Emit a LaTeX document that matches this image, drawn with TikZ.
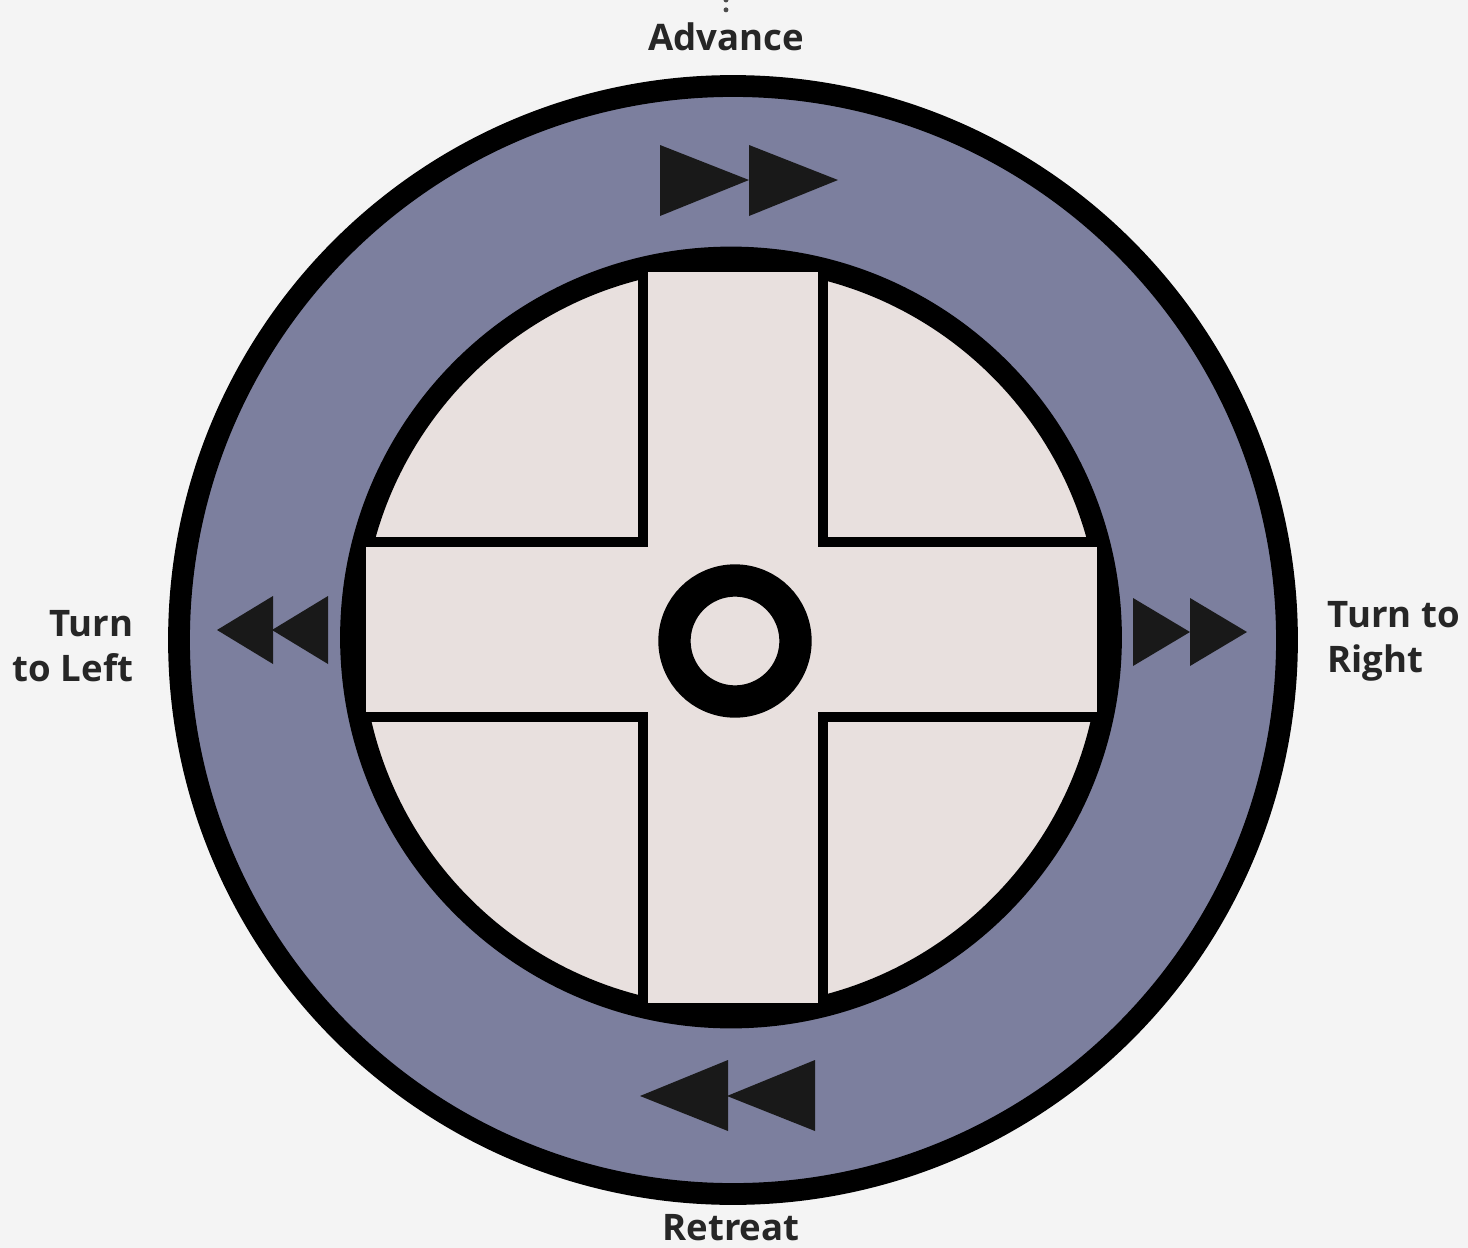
\documentclass[tikz,border=0pt]{standalone}
\usepackage{fontspec}
\setmainfont{Open Sans}
\usetikzlibrary{calc}

\definecolor{padblue}{RGB}{124,127,158}
\definecolor{padpink}{RGB}{232,224,222}
\definecolor{paper}{RGB}{244,244,244}

\begin{document}
\begin{tikzpicture}[
  x=0.01cm, y=-0.01cm,
  font=\fontsize{10.4}{12.8}\selectfont\bfseries,
  lbl/.style={inner sep=0pt, text=black!85},
  rim/.style={draw=black, line width=6.2pt},
  bar/.style={draw=black, line width=2.8pt, fill=padpink, line join=miter},
  hub/.style={draw=black, line width=9.2pt},
  tri/.style={fill=black!90},
  dotline/.style={black!70, line width=1.4pt, line cap=round,
                  dash pattern=on 0pt off 2.8pt}
]
\useasboundingbox (0,0) rectangle (1468,1248);
\fill[paper] (0,0) rectangle (1468,1248);

% pad body
\filldraw[rim, fill=padblue] (733,640) circle[radius=554];
\filldraw[rim, fill=padpink] (731,637.5) circle[radius=380];

% cross
\draw[bar] (643,267) -- (823,267) -- (823,542) -- (1102,542)
  -- (1102,717) -- (823,717) -- (823,1008) -- (643,1008)
  -- (643,717) -- (361,717) -- (361,542) -- (643,542) -- cycle;
\draw[hub] (735,641) circle[radius=60.5];

% direction marks
\foreach \x in {660,749}
  \fill[tri] (\x,145) -- ++(89,35) -- ++(-89,36) -- cycle;
\foreach \x in {1133,1190}
  \fill[tri] (\x,598) -- ++(57,34) -- ++(-57,34) -- cycle;
\foreach \x in {217,272}
  \fill[tri] (\x,630) -- ++(56,-34) -- ++(0,68) -- cycle;
\foreach \x in {640,727}
  \fill[tri] (\x,1096) -- ++(88,-36) -- ++(0,71) -- cycle;

% labels
\node[lbl, anchor=base] (adv) at (726,50) {Advance};
\node[lbl, anchor=base] (ret) at (731,1240) {Retreat};
\node[lbl, align=right, anchor=east] (tleft) at (134,646) {Turn\\to Left};
\node[lbl, align=left, anchor=west] (tright) at (1327,641) {Turn to\\Right};

\coordinate (lead) at (726,0);
\draw[dotline] (lead) -- ($(adv.north)-(0,6)$);
\end{tikzpicture}
\end{document}
